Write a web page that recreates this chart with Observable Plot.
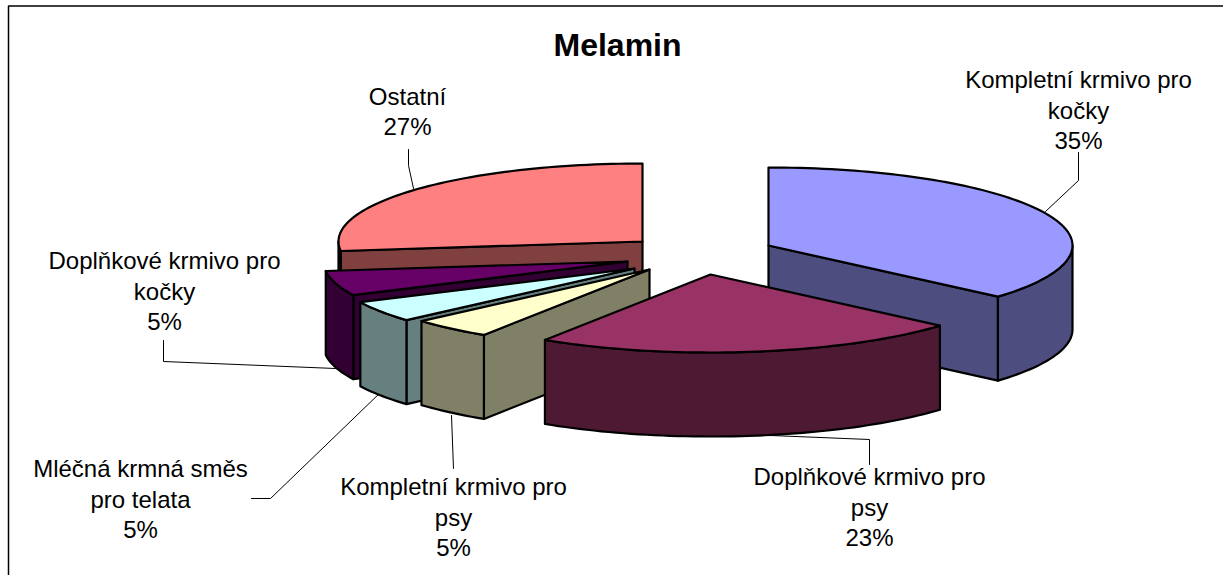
<!DOCTYPE html>
<html>
<head>
<meta charset="utf-8">
<script src="https://cdn.jsdelivr.net/npm/d3@7"></script>
<script src="https://cdn.jsdelivr.net/npm/@observablehq/plot@0.6"></script>
<style>html,body{margin:0;padding:0;background:#fff}svg{display:block}</style>
</head>
<body>
<div id="chart"></div>
<script>
// --- data ---
const title = "Melamin";
const categories = [
  "Kompletní krmivo pro\nkočky",
  "Doplňkové krmivo pro\npsy",
  "Kompletní krmivo pro\npsy",
  "Mléčná krmná směs\npro telata",
  "Doplňkové krmivo pro\nkočky",
  "Ostatní"
];
const shares = [35, 23, 5, 5, 5, 27];

// --- styling and layout, kept apart from the data ---
const topColors  = ["#9999FF", "#993366", "#FFFFCC", "#CCFFFF", "#660066", "#FF8080"];
const sideColors = ["#4D4D80", "#4D1933", "#808066", "#668080", "#330033", "#804040"];
const sliceCentres = [[768,245],[710,274],[649,269],[634,268],[627,261],[642,241]];
const labelCentres = [[1078,108.5],[869,505.5],[453,515.5],[140,497.5],[164,289.5],[407,110]];
const leaders = [
  [[1078,152],[1078,180],[1045,211]],
  [[869,464],[869,439],[770,435]],
  [[453,468],[451,415]],
  [[251,498],[270,498],[381,391]],
  [[163,340],[163,361],[335,368]],
  [[408,149],[408,165],[413,188]]
];
const rx = 304, ry = 78, depth = 84;
const paintOrder = [5, 4, 3, 2, 0, 1];
// the drawing's oblique view shifts the true angles a little
const viewAngle = d3.scaleLinear(
  [0, 126, 208.8, 226.8, 244.8, 262.8, 360],
  [0, 131, 213, 228.6, 244.4, 263, 360]
);

// --- pie geometry from the values ---
const total = d3.sum(shares);
const bounds = d3.cumsum(shares).map(v => viewAngle(v / total * 360));
const rim = ([cx, cy], deg, dz = 0) => {
  const t = deg * Math.PI / 180;
  return {x: cx + rx * Math.sin(t), y: cy - ry * Math.cos(t) + dz};
};
const arc = (c, a, b, dz = 0) => {
  const n = Math.max(2, Math.ceil((b - a) / 1.5));
  return d3.range(n + 1).map(i => rim(c, a + (b - a) * i / n, dz));
};
const face = (pts, fill) => Plot.line(pts, {
  x: "x", y: "y", fill, stroke: "#000", strokeWidth: 2.2,
  curve: "linear-closed", strokeLinejoin: "round"
});
const apex = ([cx, cy], dz = 0) => ({x: cx, y: cy + dz});

const sliceMarks = paintOrder.flatMap(i => {
  const c = sliceCentres[i];
  const a = i === 0 ? 0 : bounds[i - 1];
  const b = bounds[i];
  const marks = [];
  // cut faces that look towards the viewer
  if (a > 180 && a < 270) {
    marks.push(face([apex(c), rim(c, a), rim(c, a, depth), apex(c, depth)], sideColors[i]));
  }
  if (b > 90 && b < 180) {
    marks.push(face([apex(c), rim(c, b), rim(c, b, depth), apex(c, depth)], sideColors[i]));
  }
  // outer wall, front half of the rim only
  const wa = Math.max(a, 90), wb = Math.min(b, 270);
  if (wb > wa) {
    marks.push(face([...arc(c, wa, wb), ...arc(c, wa, wb, depth).reverse()], sideColors[i]));
  }
  // top
  marks.push(face([apex(c), ...arc(c, a, b)], topColors[i]));
  return marks;
});

const labelRows = categories.map((name, i) => ({
  text: `${name}\n${Math.round(shares[i] / total * 100)}%`,
  x: labelCentres[i][0], y: labelCentres[i][1]
}));
const leaderRows = leaders.flatMap((pts, id) => pts.map(([x, y]) => ({id, x, y})));
const frameRows = [{x: 1223, y: 5.5}, {x: 8, y: 5.5}, {x: 8, y: 575}];

const chart = Plot.plot({
  width: 1223, height: 575,
  margin: 0,
  x: {domain: [0, 1223], range: [0, 1223], axis: null},
  y: {domain: [0, 575], range: [0, 575], axis: null},
  style: {background: "#fff", fontFamily: "'Liberation Sans', Arial, sans-serif"},
  marks: [
    Plot.line(frameRows, {x: "x", y: "y", stroke: "#000", strokeWidth: 1.5}),
    Plot.line(leaderRows, {x: "x", y: "y", z: "id", stroke: "#000", strokeWidth: 1}),
    ...sliceMarks,
    Plot.text(labelRows, {
      x: "x", y: "y", text: "text",
      fontSize: 24, lineHeight: 1.26, fill: "#000",
      textAnchor: "middle", lineAnchor: "middle"
    }),
    Plot.text([title], {
      x: () => 617, y: () => 45, text: d => d,
      fontSize: 32, fontWeight: "bold", fill: "#000",
      textAnchor: "middle", lineAnchor: "middle"
    })
  ]
});
document.getElementById("chart").appendChild(chart);
</script>
</body>
</html>
